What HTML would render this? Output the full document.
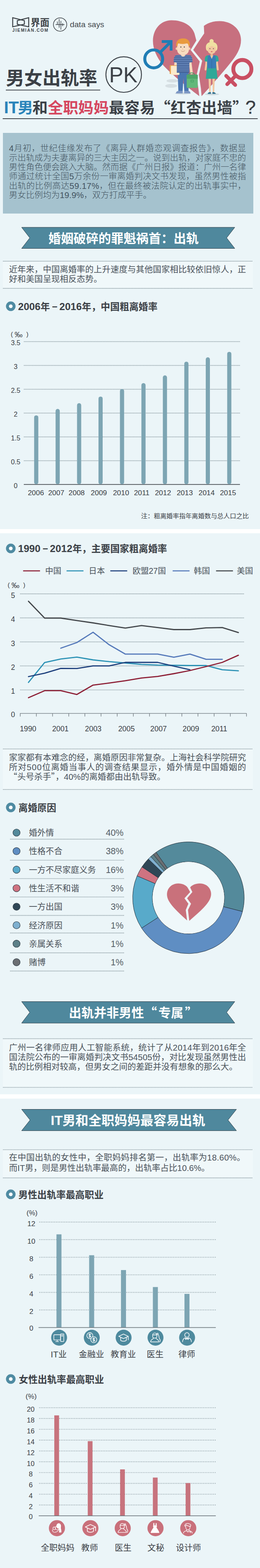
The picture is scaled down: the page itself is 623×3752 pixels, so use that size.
<!DOCTYPE html>
<html lang="zh-CN"><head><meta charset="utf-8"><title>男女出轨率PK</title>
<style>
html,body{margin:0;padding:0;background:#ebf5f8;}
body{width:623px;height:3752px;position:relative;overflow:hidden;font-family:"Liberation Sans","Noto Sans CJK SC",sans-serif;}
#art{position:absolute;left:0;top:0;display:block;}
#art text{font-family:"Liberation Sans","Noto Sans CJK SC",sans-serif;}
</style></head><body>
<svg id="art" width="623" height="3752" viewBox="0 0 623 3752">
<g fill="none" stroke="#3d4247" stroke-width="2.3" stroke-linejoin="miter"><path d="M30.4 42.4 L58.4 49.3 L58.4 57.8 L30.4 64 Z"/><path d="M68.8 42.4 L41.5 49.3 L41.5 58.2 L68.8 64 Z"/></g>
<text x="73.5" y="61.75" font-size="22.5" fill="#3d4247" font-weight="bold">界面</text>
<text x="29.6" y="76.0" font-size="10.2" fill="#3d4247" text-anchor="start" font-weight="bold" letter-spacing="1.75">JIEMIAN.COM</text>
<circle cx="144" cy="58.7" r="16" fill="none" stroke="#3d4247" stroke-width="1.5"/>
<g stroke="#3d4247" stroke-width="1.4" fill="none"><path d="M133.3 58.7 H154.4 M137.5 51.4 V59.3 M141.7 45.8 V66.2 M145.9 50 V71 M150.2 55.6 V62.6"/></g>
<text x="167.5" y="64.6" font-size="19.2" fill="#44494e" text-anchor="start" font-weight="normal">data says</text>
<path d="M466 80 C460 62 440 48.5 411 48.5 C385 48.5 366.5 70 366.5 98 C366.5 118 376 137 388 152.5 C402 170 442 203 477.5 230 L475.6 213.7 L471 180.3 L478.6 147 L456.7 119.5 L470.5 97 Z" fill="#c7707f"/>
<path d="M488.5 62 C497 55 510 50.5 526 50.5 C554 50.5 577.5 69 577.5 96 C577.5 116 566 134 551 152 C535 172 508 203 483 230 L481.5 212 L476.5 179 L484.5 145.5 L463 119.5 L478 96.5 L489.3 80 Z" fill="#c7707f"/>
<g fill="none" stroke="#1f7db5" stroke-width="7.2"><circle cx="368.3" cy="140.9" r="21.4"/><path d="M383.2 126 L409.6 99.6" stroke-width="7"/><path d="M387.6 99.4 H410 V121" stroke-width="6.6" stroke-linejoin="miter"/></g>
<g fill="none" stroke="#c94f63" stroke-linecap="round"><circle cx="580.7" cy="165.2" r="21.7" stroke-width="9.3"/><path d="M565.4 180.5 L544.4 201.5 M541.9 181.5 L563.7 203.3" stroke-width="8.8"/></g>
<ellipse cx="413" cy="193.5" rx="14" ry="4" fill="#d6dfe3"/><ellipse cx="410" cy="205.5" rx="14" ry="4.6" fill="#d6dfe3"/>
<ellipse cx="508" cy="225.5" rx="17" ry="2.6" fill="#b7c3c9" opacity="0.55"/><ellipse cx="438" cy="223.5" rx="19" ry="2.6" fill="#b7c3c9" opacity="0.5"/>
<clipPath id="shirtclip"><path d="M425 131.4 H452.4 C457.6 131.4 460.4 136 460.8 141 L461.4 148.6 L453.8 150 V174 H423.6 V150 L416 148.6 L416.6 141 C417 136 419.8 131.4 425 131.4 Z"/></clipPath>
<g><path d="M425.6 172 H451.8 V218 H441.6 L439.6 186 L437.6 218 H427.4 Z" fill="#4a76b1"/><path d="M421.6 223.6 C421.6 219.6 425 217.6 428 217.6 H437.8 V223.6 Z M441.4 217.6 H451 C454.4 217.6 456.4 220.6 456.4 223.6 H441.4 Z" fill="#7d97c4"/><path d="M419.4 140 L415.4 170 C415 174.6 421 175.4 421.8 171 L425.4 144 Z" fill="#f8dcc0"/><path d="M457.6 140 L462 174 C462.6 178.6 456.6 179.2 456 175 L452 144 Z" fill="#f8dcc0"/><rect x="406.6" y="156" width="20" height="21" rx="1" fill="#e8a04a"/><rect x="409.4" y="157.6" width="20.4" height="21.6" rx="1.5" fill="#fbeacb"/><rect x="434.6" y="126" width="8" height="8" fill="#f1cfae"/><path d="M425 131.4 H452.4 C457.6 131.4 460.4 136 460.8 141 L461.4 148.6 L453.8 150 V174 H423.6 V150 L416 148.6 L416.6 141 C417 136 419.8 131.4 425 131.4 Z" fill="#6b8cc0"/><g stroke="#3d5a8e" stroke-width="2" clip-path="url(#shirtclip)"><path d="M416 134.2 H461.6" /><path d="M416 138.6 H461.6" /><path d="M416 143.0 H461.6" /><path d="M416 147.4 H461.6" /><path d="M423.6 151.8 H453.8" /><path d="M423.6 156.2 H453.8" /><path d="M423.6 160.6 H453.8" /><path d="M423.6 165.0 H453.8" /><path d="M423.6 169.4 H453.8" /><path d="M423.6 173.0 H453.8" /></g><path d="M433 131.4 C434.6 136.4 443 136.4 444.6 131.4 Z" fill="#f8dcc0"/><circle cx="423.6" cy="116.4" r="2.8" fill="#f1cfae"/><circle cx="453.6" cy="116.4" r="2.8" fill="#f1cfae"/><path d="M424.4 104 H452.6 V118 C452.6 127 446.6 131.6 438.5 131.6 C430.4 131.6 424.4 127 424.4 118 Z" fill="#f8dcc0"/><path d="M422.4 110.6 C420.6 98.6 428 91.6 439 92 C449.4 91.6 456.6 98.6 454.8 110.6 L452 111 C451.6 106.6 450.4 104.6 447.8 103.6 C441 106 431 105.6 427.6 103 C426 105 425.4 107.6 425.2 111 Z" fill="#e99b3e"/><circle cx="433.4" cy="112.6" r="1.25" fill="#3a3a3a"/><circle cx="441.6" cy="112.6" r="1.25" fill="#3a3a3a"/><path d="M433.6 121 C436 124 440.6 124 443 120.6" stroke="#b9805e" stroke-width="0.9" fill="none"/><path d="M437.4 114.6 V118.6 H439" stroke="#e2b892" stroke-width="0.8" fill="none"/><path d="M452.4 179.6 C452.6 172.6 466.4 172.6 466.6 179.6" fill="none" stroke="#3f9a62" stroke-width="1.8"/><rect x="447.4" y="178.6" width="26.4" height="31.6" rx="2" fill="#62b87a"/><path d="M447.4 180.6 C447.4 179.4 448.4 178.6 449.4 178.6 H471.8 C472.8 178.6 473.8 179.4 473.8 180.6 V188.6 H447.4 Z" fill="#4ea569"/><rect x="457.6" y="191.6" width="5.8" height="4.6" fill="none" stroke="#3f9a62" stroke-width="1"/></g>
<g><path d="M499.6 186 H505.4 L504.6 221 H501.2 Z M509 186 H514.8 L513.2 221 H509.8 Z" fill="#f2c7a0"/><path d="M497.6 224.6 C498 221.6 501 220.4 505.4 220.6 V224.6 Z M509 220.6 C513 220.4 516.6 221.6 517 224.6 H509 Z" fill="#2a6c8c"/><path d="M493.4 141 L490.4 166 C490.2 169.4 494.2 169.8 494.8 166.6 L498 144 Z M521 141 L524 166 C524.2 169.4 520.2 169.8 519.6 166.6 L516.4 144 Z" fill="#f2c7a0"/><path d="M498 132.6 H516.6 C520.6 132.6 523 136 523.4 140 L524 146.6 L517.8 147.8 L518.6 164 L521.4 188.4 H493 L495.8 164 L496.6 147.8 L490.4 146.6 L491 140 C491.4 136 493.8 132.6 498 132.6 Z" fill="#2fa898"/><path d="M498.4 132.6 H516.2 L518.2 150 L517 163.6 H497.6 L496.4 150 Z" fill="#3a7cb8"/><path d="M503.6 132.6 L507.3 141 L511 132.6 Z" fill="#f2c7a0"/><path d="M507.3 141 V163.6" stroke="#2d6398" stroke-width="0.8"/><rect x="504.6" y="126" width="5.4" height="7.4" fill="#e7b98f"/><circle cx="507" cy="98.6" r="5" fill="#f0e0a2"/><path d="M493.6 116 C492 106 498 100.6 507.2 100.6 C516.4 100.6 522.4 106 520.8 116 C520.4 120 518.6 121.6 516.6 122 H497.8 C495.8 121.6 494 120 493.6 116 Z" fill="#f0e0a2"/><path d="M497.6 110 H516.8 V119.6 C516.8 125.6 512.6 129 507.2 129 C501.8 129 497.6 125.6 497.6 119.6 Z" fill="#f2c7a0"/><path d="M496.4 113.6 C497 108 501 106.4 507.2 106.4 C513.4 106.4 517.4 108 518 113.6 C513 113 510 111.4 507.2 109.4 C504.4 111.4 501.4 113 496.4 113.6 Z" fill="#f0e0a2"/><circle cx="503" cy="116.6" r="1" fill="#3a3a3a"/><circle cx="511.4" cy="116.6" r="1" fill="#3a3a3a"/><path d="M504.8 123.4 C506 124.8 508.4 124.8 509.6 123.4 C508.4 122.6 506 122.6 504.8 123.4 Z" fill="#c8424f"/></g>
<text x="14.2" y="202.94" font-size="43.8" fill="#3b4046" font-weight="bold">男女出轨率</text>
<rect x="14.00" y="214.60" width="226.00" height="1.80" fill="#3b4046" />
<circle cx="296.4" cy="178.4" r="42.6" fill="none" stroke="#3b4046" stroke-width="2.2"/>
<text x="295.6" y="196.9" font-size="51.0" fill="#3b4046" text-anchor="middle" font-weight="normal">PK</text>
<text x="9.4" y="271.3" font-size="40.4" fill="#2a84ba" font-weight="bold">IT</text>
<text x="42.8" y="270.51" font-size="36.6" fill="#2a84ba" font-weight="bold">男</text>
<text x="77.8" y="270.51" font-size="36.6" fill="#3b4046" font-weight="bold">和</text>
<text x="114.4" y="270.51" font-size="36.6" fill="#d6475f" font-weight="bold">全职妈妈</text>
<text x="260.9" y="270.51" font-size="36.6" fill="#3b4046" font-weight="bold" textLength="332.6" lengthAdjust="spacing">最容易<tspan style="font-family:'Noto Sans CJK SC','Liberation Sans',sans-serif">“</tspan>红杏出墙<tspan style="font-family:'Noto Sans CJK SC','Liberation Sans',sans-serif">”</tspan></text>
<text x="588" y="271.6" font-size="44.5" fill="#3b4046" stroke="#3b4046" stroke-width="0.5">?</text>
<rect x="6.50" y="283.00" width="611.00" height="1.90" fill="#3b4046" />
<rect x="7.00" y="318.00" width="600.00" height="193.00" fill="#a5c2ce" />
<text x="21.6" y="362.31" font-size="20.3" fill="#435360" font-weight="300" textLength="568" lengthAdjust="spacing">4月初，世纪佳缘发布了《离异人群婚恋观调查报告》，数据显</text>
<text x="21.6" y="384.66" font-size="20.3" fill="#435360" font-weight="300" textLength="568" lengthAdjust="spacing">示出轨成为夫妻离异的三大主因之一。说到出轨，对家庭不忠的</text>
<text x="21.6" y="407.01" font-size="20.3" fill="#435360" font-weight="300" textLength="568" lengthAdjust="spacing">男性角色便会跳入大脑。然而据《广州日报》报道：广州一名律</text>
<text x="21.6" y="429.36" font-size="20.3" fill="#435360" font-weight="300" textLength="568" lengthAdjust="spacing">师通过统计全国5万余份一审离婚判决文书发现，虽然男性被指</text>
<text x="21.6" y="451.71" font-size="20.3" fill="#435360" font-weight="300" textLength="568" lengthAdjust="spacing">出轨的比例高达59.17%，但在最终被法院认定的出轨事实中，</text>
<text x="21.6" y="474.06" font-size="20.3" fill="#435360" font-weight="300">男女比例均为19.9%，双方打成平手。</text>
<polygon points="51.8,544.0 562.6,544.0 543.0,569.2 562.6,594.5 51.8,594.5 71.4,569.2" fill="#4f889d" stroke="#2c3c46" stroke-width="1"/>
<text x="116" y="580.95" font-size="30" fill="#fff" font-weight="bold">婚姻破碎的罪魁祸首：出轨</text>
<rect x="7.00" y="625.00" width="599.00" height="65.00" fill="#f0f8fa" />
<line x1="8.0" y1="625.0" x2="606.0" y2="625.0" stroke="#84949b" stroke-width="1.8" stroke-dasharray="0.01 2.65" stroke-linecap="round"/>
<line x1="8.0" y1="690.0" x2="606.0" y2="690.0" stroke="#84949b" stroke-width="1.8" stroke-dasharray="0.01 2.65" stroke-linecap="round"/>
<text x="21.5" y="651.91" font-size="20.3" fill="#4a525a" textLength="568" lengthAdjust="spacing">近年来，中国离婚率的上升速度与其他国家相比较依旧惊人，正</text>
<text x="21.5" y="675.01" font-size="20.3" fill="#4a525a">好和美国呈现相反态势。</text>
<circle cx="25.8" cy="732.8" r="11.5" fill="#4f8ba2"/><circle cx="25.8" cy="732.8" r="4.4" fill="#fff"/>
<text y="741.63" font-size="22.7" fill="#3b4046" font-weight="bold"><tspan x="43.2" font-size="24.2">2006</tspan><tspan x="96.98">年</tspan><tspan x="124.5">−</tspan><tspan x="142.2" font-size="24.2">2016</tspan><tspan x="196">年，中国粗离婚率</tspan></text>
<text x="25.8" y="804.5" font-size="15.5" fill="#3b4046" text-anchor="start" font-weight="normal">(</text>
<text x="35" y="807.02" font-size="19" fill="#3b4046">‰</text>
<text x="63.1" y="804.5" font-size="15.5" fill="#3b4046" text-anchor="start" font-weight="normal">)</text>
<text x="37.4" y="825.7" font-size="16.2" fill="#3b4046" text-anchor="middle" font-weight="normal">3.5</text>
<line x1="58.0" y1="817.4" x2="575.0" y2="817.4" stroke="#84949b" stroke-width="1.8" stroke-dasharray="0.01 2.65" stroke-linecap="round"/>
<text x="37.4" y="882.7" font-size="16.2" fill="#3b4046" text-anchor="middle" font-weight="normal">3</text>
<line x1="58.0" y1="874.4" x2="575.0" y2="874.4" stroke="#84949b" stroke-width="1.8" stroke-dasharray="0.01 2.65" stroke-linecap="round"/>
<text x="37.4" y="939.7" font-size="16.2" fill="#3b4046" text-anchor="middle" font-weight="normal">2.5</text>
<line x1="58.0" y1="931.4" x2="575.0" y2="931.4" stroke="#84949b" stroke-width="1.8" stroke-dasharray="0.01 2.65" stroke-linecap="round"/>
<text x="37.4" y="996.7" font-size="16.2" fill="#3b4046" text-anchor="middle" font-weight="normal">2</text>
<line x1="58.0" y1="988.4" x2="575.0" y2="988.4" stroke="#84949b" stroke-width="1.8" stroke-dasharray="0.01 2.65" stroke-linecap="round"/>
<text x="37.4" y="1053.7" font-size="16.2" fill="#3b4046" text-anchor="middle" font-weight="normal">1.5</text>
<line x1="58.0" y1="1045.4" x2="575.0" y2="1045.4" stroke="#84949b" stroke-width="1.8" stroke-dasharray="0.01 2.65" stroke-linecap="round"/>
<text x="37.4" y="1110.7" font-size="16.2" fill="#3b4046" text-anchor="middle" font-weight="normal">0.5</text>
<line x1="58.0" y1="1102.4" x2="575.0" y2="1102.4" stroke="#84949b" stroke-width="1.8" stroke-dasharray="0.01 2.65" stroke-linecap="round"/>
<text x="37.4" y="1167.7" font-size="16.2" fill="#3b4046" text-anchor="middle" font-weight="normal">0</text>
<rect x="57.00" y="1158.50" width="518.00" height="1.60" fill="#3b4046" />
<rect x="81.8" y="993.9" width="10" height="164.9" rx="5" fill="#7da5b3"/>
<text x="86.0" y="1185.4" font-size="17.4" fill="#3b4046" text-anchor="middle" font-weight="normal">2006</text>
<rect x="133.2" y="978.6" width="10" height="180.2" rx="5" fill="#7da5b3"/>
<text x="134.8" y="1185.4" font-size="17.4" fill="#3b4046" text-anchor="middle" font-weight="normal">2007</text>
<rect x="184.6" y="964.8" width="10" height="194.0" rx="5" fill="#7da5b3"/>
<text x="183.7" y="1185.4" font-size="17.4" fill="#3b4046" text-anchor="middle" font-weight="normal">2008</text>
<rect x="236.0" y="948.9" width="10" height="209.9" rx="5" fill="#7da5b3"/>
<text x="236.9" y="1185.4" font-size="17.4" fill="#3b4046" text-anchor="middle" font-weight="normal">2009</text>
<rect x="287.4" y="930.9" width="10" height="227.9" rx="5" fill="#7da5b3"/>
<text x="290.0" y="1185.4" font-size="17.4" fill="#3b4046" text-anchor="middle" font-weight="normal">2010</text>
<rect x="338.8" y="916.7" width="10" height="242.1" rx="5" fill="#7da5b3"/>
<text x="339.6" y="1185.4" font-size="17.4" fill="#3b4046" text-anchor="middle" font-weight="normal">2011</text>
<rect x="390.2" y="898.3" width="10" height="260.5" rx="5" fill="#7da5b3"/>
<text x="390.5" y="1185.4" font-size="17.4" fill="#3b4046" text-anchor="middle" font-weight="normal">2012</text>
<rect x="441.6" y="865.4" width="10" height="293.4" rx="5" fill="#7da5b3"/>
<text x="442.8" y="1185.4" font-size="17.4" fill="#3b4046" text-anchor="middle" font-weight="normal">2013</text>
<rect x="493.0" y="855.1" width="10" height="303.7" rx="5" fill="#7da5b3"/>
<text x="495.1" y="1185.4" font-size="17.4" fill="#3b4046" text-anchor="middle" font-weight="normal">2014</text>
<rect x="544.4" y="841.9" width="10" height="316.9" rx="5" fill="#7da5b3"/>
<text x="546.3" y="1185.4" font-size="17.4" fill="#3b4046" text-anchor="middle" font-weight="normal">2015</text>
<text x="338.1" y="1240.28" font-size="15.2" fill="#3b4046">注：粗离婚率指年离婚数与总人口之比</text>
<rect x="0.00" y="1266.00" width="623.00" height="10.00" fill="#ffffff" />
<circle cx="25.8" cy="1312.3" r="11.5" fill="#4f8ba2"/><circle cx="25.8" cy="1312.3" r="4.4" fill="#fff"/>
<text y="1321.13" font-size="22.7" fill="#3b4046" font-weight="bold"><tspan x="43.2" font-size="24.2">1990</tspan><tspan x="101.9">−</tspan><tspan x="119.6" font-size="24.2">2012</tspan><tspan x="173.4">年，主要国家粗离婚率</tspan></text>
<line x1="55.4" y1="1366" x2="95.9" y2="1366" stroke="#8d1f35" stroke-width="2.6"/>
<text x="108.2" y="1373.17" font-size="19.4" fill="#4a525a">中国</text>
<line x1="159.5" y1="1366" x2="200.0" y2="1366" stroke="#2c92b5" stroke-width="2.6"/>
<text x="212.6" y="1373.17" font-size="19.4" fill="#4a525a">日本</text>
<line x1="264.3" y1="1366" x2="304.8" y2="1366" stroke="#1d3f7c" stroke-width="2.6"/>
<text x="317.8" y="1373.17" font-size="19.4" fill="#4a525a">欧盟27国</text>
<line x1="413.7" y1="1366" x2="454.2" y2="1366" stroke="#5579ba" stroke-width="2.6"/>
<text x="464.3" y="1373.17" font-size="19.4" fill="#4a525a">韩国</text>
<line x1="517.7" y1="1366" x2="558.2" y2="1366" stroke="#43474b" stroke-width="2.6"/>
<text x="567.5" y="1373.17" font-size="19.4" fill="#4a525a">美国</text>
<text x="18.2" y="1404.7" font-size="15.5" fill="#3b4046" text-anchor="start" font-weight="normal">(</text>
<text x="27.4" y="1407.22" font-size="19" fill="#3b4046">‰</text>
<text x="55.5" y="1404.7" font-size="15.5" fill="#3b4046" text-anchor="start" font-weight="normal">)</text>
<text x="31.0" y="1715.5" font-size="17.5" fill="#3b4046" text-anchor="middle" font-weight="normal">0</text>
<text x="31.0" y="1660.4" font-size="17.5" fill="#3b4046" text-anchor="middle" font-weight="normal">1</text>
<line x1="49.0" y1="1650.8" x2="585.5" y2="1650.8" stroke="#84949b" stroke-width="1.8" stroke-dasharray="0.01 2.65" stroke-linecap="round"/>
<text x="31.0" y="1603.0" font-size="17.5" fill="#3b4046" text-anchor="middle" font-weight="normal">2</text>
<line x1="49.0" y1="1593.4" x2="585.5" y2="1593.4" stroke="#84949b" stroke-width="1.8" stroke-dasharray="0.01 2.65" stroke-linecap="round"/>
<text x="31.0" y="1545.5" font-size="17.5" fill="#3b4046" text-anchor="middle" font-weight="normal">3</text>
<line x1="49.0" y1="1535.9" x2="585.5" y2="1535.9" stroke="#84949b" stroke-width="1.8" stroke-dasharray="0.01 2.65" stroke-linecap="round"/>
<text x="31.0" y="1488.1" font-size="17.5" fill="#3b4046" text-anchor="middle" font-weight="normal">4</text>
<line x1="49.0" y1="1478.5" x2="585.5" y2="1478.5" stroke="#84949b" stroke-width="1.8" stroke-dasharray="0.01 2.65" stroke-linecap="round"/>
<text x="31.0" y="1430.6" font-size="17.5" fill="#3b4046" text-anchor="middle" font-weight="normal">5</text>
<line x1="49.0" y1="1421.0" x2="585.5" y2="1421.0" stroke="#84949b" stroke-width="1.8" stroke-dasharray="0.01 2.65" stroke-linecap="round"/>
<path d="M47.8 1707.2 H591 M48.5 1707.2 V1714.4 M87.2 1707.2 V1714.4 M125.9 1707.2 V1714.4 M164.7 1707.2 V1714.4 M203.4 1707.2 V1714.4 M242.1 1707.2 V1714.4 M280.8 1707.2 V1714.4 M319.5 1707.2 V1714.4 M358.3 1707.2 V1714.4 M397.0 1707.2 V1714.4 M435.7 1707.2 V1714.4 M474.4 1707.2 V1714.4 M513.1 1707.2 V1714.4 M551.9 1707.2 V1714.4 M590.6 1707.2 V1714.4" stroke="#6d767c" stroke-width="1.3" fill="none"/>
<polyline points="68.2,1438.7 106.9,1479.0 145.6,1479.0 184.2,1484.9 223.0,1490.5 261.6,1496.8 300.4,1502.8 339.1,1496.8 377.8,1501.7 416.5,1506.5 455.1,1506.5 493.9,1502.4 532.6,1501.7 571.2,1513.6" fill="none" stroke="#43474b" stroke-width="2.8" stroke-linejoin="round" stroke-linecap="round"/>
<polyline points="145.6,1551.0 184.2,1537.5 223.0,1512.9 261.6,1542.8 300.4,1565.2 339.1,1565.2 377.8,1565.2 416.5,1572.7 455.1,1565.2 493.9,1577.6 532.6,1577.6" fill="none" stroke="#5579ba" stroke-width="2.8" stroke-linejoin="round" stroke-linecap="round"/>
<polyline points="68.2,1632.9 106.9,1585.4 145.6,1576.8 184.2,1572.3 223.0,1579.0 261.6,1583.2 300.4,1586.5 339.1,1589.9 377.8,1591.4 416.5,1592.0 455.1,1592.5 493.9,1592.5 532.6,1602.6 571.2,1605.2" fill="none" stroke="#2c92b5" stroke-width="2.8" stroke-linejoin="round" stroke-linecap="round"/>
<polyline points="68.2,1619.0 106.9,1610.8 145.6,1599.3 184.2,1599.6 223.0,1593.3 261.6,1593.3 300.4,1585.0 339.1,1585.0 377.8,1585.0 416.5,1594.0 455.1,1602.6" fill="none" stroke="#1d3f7c" stroke-width="2.8" stroke-linejoin="round" stroke-linecap="round"/>
<polyline points="68.2,1669.5 106.9,1652.7 145.6,1652.7 184.2,1661.8 223.0,1639.3 261.6,1634.4 300.4,1628.8 339.1,1622.4 377.8,1618.7 416.5,1612.0 455.1,1604.5 493.9,1595.0 532.6,1585.0 571.2,1567.9" fill="none" stroke="#8d1f35" stroke-width="2.8" stroke-linejoin="round" stroke-linecap="round"/>
<text x="67.2" y="1749.6" font-size="17.8" fill="#3b4046" text-anchor="middle" font-weight="normal">1990</text>
<text x="144.7" y="1749.6" font-size="17.8" fill="#3b4046" text-anchor="middle" font-weight="normal">2001</text>
<text x="223.4" y="1749.6" font-size="17.8" fill="#3b4046" text-anchor="middle" font-weight="normal">2003</text>
<text x="303.0" y="1749.6" font-size="17.8" fill="#3b4046" text-anchor="middle" font-weight="normal">2005</text>
<text x="379.9" y="1749.6" font-size="17.8" fill="#3b4046" text-anchor="middle" font-weight="normal">2007</text>
<text x="457.3" y="1749.6" font-size="17.8" fill="#3b4046" text-anchor="middle" font-weight="normal">2009</text>
<text x="525.3" y="1749.6" font-size="17.8" fill="#3b4046" text-anchor="middle" font-weight="normal">2011</text>
<rect x="7.00" y="1792.20" width="599.00" height="97.00" fill="#f0f8fa" />
<line x1="8.0" y1="1792.2" x2="606.0" y2="1792.2" stroke="#84949b" stroke-width="1.8" stroke-dasharray="0.01 2.65" stroke-linecap="round"/>
<line x1="8.0" y1="1889.2" x2="606.0" y2="1889.2" stroke="#84949b" stroke-width="1.8" stroke-dasharray="0.01 2.65" stroke-linecap="round"/>
<text x="21.5" y="1820.31" font-size="20.3" fill="#4a525a" textLength="568" lengthAdjust="spacing">家家都有本难念的经，离婚原因非常复杂。上海社会科学院研究</text>
<text x="21.5" y="1843.06" font-size="20.3" fill="#4a525a" textLength="568" lengthAdjust="spacing">所对500位离婚当事人的调查结果显示，婚外情是中国婚姻的</text>
<text x="21.1" y="1865.81" font-size="20.3" fill="#4a525a"><tspan style="font-family:'Noto Sans CJK SC','Liberation Sans',sans-serif">“</tspan>头号杀手<tspan style="font-family:'Noto Sans CJK SC','Liberation Sans',sans-serif">”</tspan>，40%的离婚都由出轨导致。</text>
<circle cx="25.8" cy="1932.1" r="11.5" fill="#4f8ba2"/><circle cx="25.8" cy="1932.1" r="4.4" fill="#fff"/>
<text x="44" y="1940.93" font-size="22.7" fill="#3b4046" font-weight="bold">离婚原因</text>
<circle cx="39.6" cy="1992.4" r="8.6" fill="#548a9b" stroke="#2e3a44" stroke-width="1.1"/>
<text x="69.2" y="2000.04" font-size="20.1" fill="#4a5159">婚外情</text>
<text x="296.0" y="2000.0" font-size="21.3" fill="#555d65" text-anchor="end" font-weight="normal">40%</text>
<line x1="25.0" y1="2008.0" x2="298.0" y2="2008.0" stroke="#84949b" stroke-width="1.8" stroke-dasharray="0.01 2.65" stroke-linecap="round"/>
<circle cx="39.6" cy="2036.7" r="8.6" fill="#5f8ec3" stroke="#2e3a44" stroke-width="1.1"/>
<text x="69.2" y="2044.34" font-size="20.1" fill="#4a5159">性格不合</text>
<text x="296.0" y="2044.3" font-size="21.3" fill="#555d65" text-anchor="end" font-weight="normal">38%</text>
<line x1="25.0" y1="2058.3" x2="298.0" y2="2058.3" stroke="#84949b" stroke-width="1.8" stroke-dasharray="0.01 2.65" stroke-linecap="round"/>
<circle cx="39.6" cy="2081.0" r="8.6" fill="#58aaca" stroke="#2e3a44" stroke-width="1.1"/>
<text x="69.2" y="2088.64" font-size="20.1" fill="#4a5159">一方不尽家庭义务</text>
<text x="296.0" y="2088.6" font-size="21.3" fill="#555d65" text-anchor="end" font-weight="normal">16%</text>
<line x1="25.0" y1="2102.3" x2="298.0" y2="2102.3" stroke="#84949b" stroke-width="1.8" stroke-dasharray="0.01 2.65" stroke-linecap="round"/>
<circle cx="39.6" cy="2125.3" r="8.6" fill="#cf7381" stroke="#2e3a44" stroke-width="1.1"/>
<text x="69.2" y="2132.94" font-size="20.1" fill="#4a5159">性生活不和谐</text>
<text x="296.0" y="2132.9" font-size="21.3" fill="#555d65" text-anchor="end" font-weight="normal">3%</text>
<line x1="25.0" y1="2146.3" x2="298.0" y2="2146.3" stroke="#84949b" stroke-width="1.8" stroke-dasharray="0.01 2.65" stroke-linecap="round"/>
<circle cx="39.6" cy="2169.6" r="8.6" fill="#2f4756" stroke="#2e3a44" stroke-width="1.1"/>
<text x="69.2" y="2177.24" font-size="20.1" fill="#4a5159">一方出国</text>
<text x="296.0" y="2177.2" font-size="21.3" fill="#555d65" text-anchor="end" font-weight="normal">3%</text>
<line x1="25.0" y1="2190.5" x2="298.0" y2="2190.5" stroke="#84949b" stroke-width="1.8" stroke-dasharray="0.01 2.65" stroke-linecap="round"/>
<circle cx="39.6" cy="2213.9" r="8.6" fill="#7fb0cf" stroke="#2e3a44" stroke-width="1.1"/>
<text x="69.2" y="2221.54" font-size="20.1" fill="#4a5159">经济原因</text>
<text x="296.0" y="2221.5" font-size="21.3" fill="#555d65" text-anchor="end" font-weight="normal">1%</text>
<line x1="25.0" y1="2232.5" x2="298.0" y2="2232.5" stroke="#84949b" stroke-width="1.8" stroke-dasharray="0.01 2.65" stroke-linecap="round"/>
<circle cx="39.6" cy="2258.2" r="8.6" fill="#5c8088" stroke="#2e3a44" stroke-width="1.1"/>
<text x="69.2" y="2265.84" font-size="20.1" fill="#4a5159">亲属关系</text>
<text x="296.0" y="2265.8" font-size="21.3" fill="#555d65" text-anchor="end" font-weight="normal">1%</text>
<line x1="25.0" y1="2280.0" x2="298.0" y2="2280.0" stroke="#84949b" stroke-width="1.8" stroke-dasharray="0.01 2.65" stroke-linecap="round"/>
<circle cx="39.6" cy="2302.5" r="8.6" fill="#6b6f73" stroke="#2e3a44" stroke-width="1.1"/>
<text x="69.2" y="2310.14" font-size="20.1" fill="#4a5159">赌博</text>
<text x="296.0" y="2310.1" font-size="21.3" fill="#555d65" text-anchor="end" font-weight="normal">1%</text>
<line x1="25.0" y1="2323.5" x2="298.0" y2="2323.5" stroke="#84949b" stroke-width="1.8" stroke-dasharray="0.01 2.65" stroke-linecap="round"/>
<path d="M373.92 2039.43 A133.6 133.6 0 0 1 580.96 2181.21 L535.32 2169.57 A86.5 86.5 0 0 0 401.27 2077.78 Z" fill="#548a9b" stroke="#26323c" stroke-width="1" stroke-linejoin="round"/>
<path d="M580.96 2181.21 A133.6 133.6 0 0 1 339.30 2220.73 L378.86 2195.16 A86.5 86.5 0 0 0 535.32 2169.57 Z" fill="#5f8ec3" stroke="#26323c" stroke-width="1" stroke-linejoin="round"/>
<path d="M339.30 2220.73 A133.6 133.6 0 0 1 328.56 2095.90 L371.90 2114.34 A86.5 86.5 0 0 0 378.86 2195.16 Z" fill="#58aaca" stroke="#26323c" stroke-width="1" stroke-linejoin="round"/>
<path d="M328.56 2095.90 A133.6 133.6 0 0 1 340.13 2074.40 L379.39 2100.42 A86.5 86.5 0 0 0 371.90 2114.34 Z" fill="#cf7381" stroke="#26323c" stroke-width="1" stroke-linejoin="round"/>
<path d="M340.13 2074.40 A133.6 133.6 0 0 1 355.42 2055.37 L389.29 2088.10 A86.5 86.5 0 0 0 379.39 2100.42 Z" fill="#2f4756" stroke="#26323c" stroke-width="1" stroke-linejoin="round"/>
<path d="M355.42 2055.37 A133.6 133.6 0 0 1 361.26 2049.68 L393.07 2084.42 A86.5 86.5 0 0 0 389.29 2088.10 Z" fill="#7fb0cf" stroke="#26323c" stroke-width="1" stroke-linejoin="round"/>
<path d="M361.26 2049.68 A133.6 133.6 0 0 1 367.43 2044.37 L397.07 2080.97 A86.5 86.5 0 0 0 393.07 2084.42 Z" fill="#5c8088" stroke="#26323c" stroke-width="1" stroke-linejoin="round"/>
<path d="M367.43 2044.37 A133.6 133.6 0 0 1 373.92 2039.43 L401.27 2077.78 A86.5 86.5 0 0 0 397.07 2080.97 Z" fill="#6b6f73" stroke="#26323c" stroke-width="1" stroke-linejoin="round"/>
<circle cx="451.5" cy="2148.2" r="85.9" fill="#eff8fa"/>
<g transform="translate(452.5 2116) scale(1.05 0.93)"><path d="M-3 8 C-12 -6 -42 -8 -49 18 C-54 40 -38 58 -4 93 L-7 66 L-1 50 L-10 36 L3 20 Z" fill="#c9717b"/><path d="M3 8 C12 -6 44 -8 50 18 C55 40 36 60 1 94 L-2 66 L5 50 L-4 36 L8 20 Z" fill="#c9717b"/></g>
<polygon points="51.8,2396.7 562.6,2396.7 543.0,2422.4 562.6,2448.1 51.8,2448.1 71.4,2422.4" fill="#4f889d" stroke="#2c3c46" stroke-width="1"/>
<text x="165" y="2434.1" font-size="30" fill="#fff" font-weight="bold">出轨并非男性</text>
<text x="345.9" y="2434.1" font-size="30" fill="#fff" font-weight="bold" style="font-family:'Noto Sans CJK SC','Liberation Sans',sans-serif">“</text>
<text x="379.6" y="2434.1" font-size="30" fill="#fff" font-weight="bold">专属</text>
<text x="443.2" y="2434.1" font-size="30" fill="#fff" font-weight="bold" style="font-family:'Noto Sans CJK SC','Liberation Sans',sans-serif">”</text>
<rect x="7.00" y="2485.40" width="599.00" height="116.40" fill="#f0f8fa" />
<line x1="8.0" y1="2485.4" x2="606.0" y2="2485.4" stroke="#84949b" stroke-width="1.8" stroke-dasharray="0.01 2.65" stroke-linecap="round"/>
<line x1="8.0" y1="2601.8" x2="606.0" y2="2601.8" stroke="#84949b" stroke-width="1.8" stroke-dasharray="0.01 2.65" stroke-linecap="round"/>
<text x="21.5" y="2513.61" font-size="20.3" fill="#4a525a" textLength="568" lengthAdjust="spacing">广州一名律师应用人工智能系统，统计了从2014年到2016年全</text>
<text x="21.5" y="2536.56" font-size="20.3" fill="#4a525a" textLength="568" lengthAdjust="spacing">国法院公布的一审离婚判决文书54505份，对比发现虽然男性出</text>
<text x="21.5" y="2559.51" font-size="20.3" fill="#4a525a">轨的比例相对较高，但男女之间的差距并没有想象的那么大。</text>
<rect x="0.00" y="2618.50" width="623.00" height="10.30" fill="#ffffff" />
<polygon points="51.8,2654.5 566.6,2654.5 546.3,2680.1 566.6,2705.6 51.8,2705.6 72.1,2680.1" fill="#4f889d" stroke="#2c3c46" stroke-width="1"/>
<text x="121.6" y="2692.13" font-size="32.2" fill="#fff" font-weight="bold">IT</text>
<text x="149.7" y="2692.13" font-size="31" fill="#fff" font-weight="bold" textLength="342" lengthAdjust="spacing">男和全职妈妈最容易出轨</text>
<rect x="7.00" y="2751.10" width="599.00" height="67.40" fill="#f0f8fa" />
<line x1="8.0" y1="2751.1" x2="606.0" y2="2751.1" stroke="#84949b" stroke-width="1.8" stroke-dasharray="0.01 2.65" stroke-linecap="round"/>
<line x1="8.0" y1="2818.5" x2="606.0" y2="2818.5" stroke="#84949b" stroke-width="1.8" stroke-dasharray="0.01 2.65" stroke-linecap="round"/>
<text x="21.5" y="2777.31" font-size="20.3" fill="#4a525a" textLength="566" lengthAdjust="spacing">在中国出轨的女性中，全职妈妈排名第一，出轨率为18.60%。</text>
<text x="21.5" y="2801.51" font-size="20.3" fill="#4a525a">而IT男，则是男性出轨率最高的，出轨率占比10.6%。</text>
<circle cx="25.8" cy="2857.8" r="11.5" fill="#4f8ba2"/><circle cx="25.8" cy="2857.8" r="4.4" fill="#fff"/>
<text x="44" y="2866.63" font-size="22.7" fill="#3b4046" font-weight="bold">男性出轨率最高职业</text>
<circle cx="25.8" cy="3299.8" r="11.5" fill="#4f8ba2"/><circle cx="25.8" cy="3299.8" r="4.4" fill="#fff"/>
<text x="45" y="3308.63" font-size="22.7" fill="#3b4046" font-weight="bold">女性出轨率最高职业</text>
<text x="76.8" y="2907.6" font-size="17.0" fill="#3b4046" text-anchor="middle" font-weight="normal">(%)</text>
<text x="75.1" y="3184.2" font-size="17.3" fill="#3b4046" text-anchor="middle" font-weight="normal">0</text>
<text x="75.1" y="3144.1" font-size="17.3" fill="#3b4046" text-anchor="middle" font-weight="normal">2</text>
<line x1="95.0" y1="3134.5" x2="519.0" y2="3134.5" stroke="#84949b" stroke-width="1.9" stroke-dasharray="0.01 4" stroke-linecap="round"/>
<text x="75.1" y="3102.1" font-size="17.3" fill="#3b4046" text-anchor="middle" font-weight="normal">4</text>
<line x1="95.0" y1="3092.5" x2="519.0" y2="3092.5" stroke="#84949b" stroke-width="1.9" stroke-dasharray="0.01 4" stroke-linecap="round"/>
<text x="75.1" y="3060.0" font-size="17.3" fill="#3b4046" text-anchor="middle" font-weight="normal">6</text>
<line x1="95.0" y1="3050.4" x2="519.0" y2="3050.4" stroke="#84949b" stroke-width="1.9" stroke-dasharray="0.01 4" stroke-linecap="round"/>
<text x="75.1" y="3018.0" font-size="17.3" fill="#3b4046" text-anchor="middle" font-weight="normal">8</text>
<line x1="95.0" y1="3008.4" x2="519.0" y2="3008.4" stroke="#84949b" stroke-width="1.9" stroke-dasharray="0.01 4" stroke-linecap="round"/>
<text x="75.1" y="2975.9" font-size="17.3" fill="#3b4046" text-anchor="middle" font-weight="normal">10</text>
<line x1="95.0" y1="2966.3" x2="519.0" y2="2966.3" stroke="#84949b" stroke-width="1.9" stroke-dasharray="0.01 4" stroke-linecap="round"/>
<text x="75.1" y="2933.9" font-size="17.3" fill="#3b4046" text-anchor="middle" font-weight="normal">12</text>
<line x1="95.0" y1="2924.3" x2="519.0" y2="2924.3" stroke="#84949b" stroke-width="1.9" stroke-dasharray="0.01 4" stroke-linecap="round"/>
<rect x="135.30" y="2953.60" width="12.00" height="223.00" fill="#7da5b3" />
<rect x="213.60" y="3003.60" width="12.00" height="173.00" fill="#7da5b3" />
<rect x="289.90" y="3039.10" width="12.00" height="137.50" fill="#7da5b3" />
<rect x="366.30" y="3079.70" width="12.00" height="96.90" fill="#7da5b3" />
<rect x="442.00" y="3096.10" width="12.00" height="80.50" fill="#7da5b3" />
<rect x="92.30" y="3175.80" width="424.80" height="1.60" fill="#6d767c" />
<circle cx="141.6" cy="3200.8" r="19.1" fill="#4e8a9e"/>
<text x="121.59" y="3248.28" font-size="20.2" fill="#3b4046"><tspan font-size="20.5">IT</tspan>业</text>
<circle cx="219.9" cy="3200.8" r="19.1" fill="#4e8a9e"/>
<text x="188.8" y="3248.28" font-size="20.2" fill="#3b4046">金融业</text>
<circle cx="296.2" cy="3200.8" r="19.1" fill="#4e8a9e"/>
<text x="265.1" y="3248.28" font-size="20.2" fill="#3b4046">教育业</text>
<circle cx="372.6" cy="3200.8" r="19.1" fill="#4e8a9e"/>
<text x="351.6" y="3248.28" font-size="20.2" fill="#3b4046">医生</text>
<circle cx="448.3" cy="3200.8" r="19.1" fill="#4e8a9e"/>
<text x="427.3" y="3248.28" font-size="20.2" fill="#3b4046">律师</text>
<text x="74.6" y="3346.8" font-size="17.0" fill="#3b4046" text-anchor="middle" font-weight="normal">(%)</text>
<text x="73.6" y="3634.5" font-size="16.8" fill="#3b4046" text-anchor="middle" font-weight="normal">0</text>
<text x="73.6" y="3611.0" font-size="16.8" fill="#3b4046" text-anchor="middle" font-weight="normal">2</text>
<line x1="94.7" y1="3601.2" x2="519.0" y2="3601.2" stroke="#84949b" stroke-width="1.9" stroke-dasharray="0.01 4" stroke-linecap="round"/>
<text x="73.6" y="3585.2" font-size="16.8" fill="#3b4046" text-anchor="middle" font-weight="normal">4</text>
<line x1="94.7" y1="3575.4" x2="519.0" y2="3575.4" stroke="#84949b" stroke-width="1.9" stroke-dasharray="0.01 4" stroke-linecap="round"/>
<text x="73.6" y="3559.3" font-size="16.8" fill="#3b4046" text-anchor="middle" font-weight="normal">6</text>
<line x1="94.7" y1="3549.5" x2="519.0" y2="3549.5" stroke="#84949b" stroke-width="1.9" stroke-dasharray="0.01 4" stroke-linecap="round"/>
<text x="73.6" y="3533.4" font-size="16.8" fill="#3b4046" text-anchor="middle" font-weight="normal">8</text>
<line x1="94.7" y1="3523.6" x2="519.0" y2="3523.6" stroke="#84949b" stroke-width="1.9" stroke-dasharray="0.01 4" stroke-linecap="round"/>
<text x="73.6" y="3507.6" font-size="16.8" fill="#3b4046" text-anchor="middle" font-weight="normal">10</text>
<line x1="94.7" y1="3497.8" x2="519.0" y2="3497.8" stroke="#84949b" stroke-width="1.9" stroke-dasharray="0.01 4" stroke-linecap="round"/>
<text x="73.6" y="3481.7" font-size="16.8" fill="#3b4046" text-anchor="middle" font-weight="normal">12</text>
<line x1="94.7" y1="3471.9" x2="519.0" y2="3471.9" stroke="#84949b" stroke-width="1.9" stroke-dasharray="0.01 4" stroke-linecap="round"/>
<text x="73.6" y="3455.8" font-size="16.8" fill="#3b4046" text-anchor="middle" font-weight="normal">14</text>
<line x1="94.7" y1="3446.0" x2="519.0" y2="3446.0" stroke="#84949b" stroke-width="1.9" stroke-dasharray="0.01 4" stroke-linecap="round"/>
<text x="73.6" y="3429.9" font-size="16.8" fill="#3b4046" text-anchor="middle" font-weight="normal">16</text>
<line x1="94.7" y1="3420.1" x2="519.0" y2="3420.1" stroke="#84949b" stroke-width="1.9" stroke-dasharray="0.01 4" stroke-linecap="round"/>
<text x="73.6" y="3404.1" font-size="16.8" fill="#3b4046" text-anchor="middle" font-weight="normal">18</text>
<line x1="94.7" y1="3394.3" x2="519.0" y2="3394.3" stroke="#84949b" stroke-width="1.9" stroke-dasharray="0.01 4" stroke-linecap="round"/>
<text x="73.6" y="3378.2" font-size="16.8" fill="#3b4046" text-anchor="middle" font-weight="normal">20</text>
<line x1="94.7" y1="3368.4" x2="519.0" y2="3368.4" stroke="#84949b" stroke-width="1.9" stroke-dasharray="0.01 4" stroke-linecap="round"/>
<rect x="130.10" y="3386.80" width="11.40" height="240.30" fill="#c7737d" />
<rect x="210.30" y="3448.50" width="11.40" height="178.60" fill="#c7737d" />
<rect x="287.80" y="3516.00" width="11.40" height="111.10" fill="#c7737d" />
<rect x="366.30" y="3535.60" width="11.40" height="91.50" fill="#c7737d" />
<rect x="444.80" y="3548.70" width="11.40" height="78.40" fill="#c7737d" />
<rect x="92.80" y="3626.30" width="424.30" height="1.60" fill="#6d767c" />
<circle cx="136.4" cy="3656.7" r="19.3" fill="#c9707b"/>
<text x="97.9" y="3711.44" font-size="20.1" fill="#3b4046">全职妈妈</text>
<circle cx="216.6" cy="3656.7" r="19.3" fill="#c9707b"/>
<text x="194.6" y="3711.44" font-size="20.1" fill="#3b4046">教师</text>
<circle cx="294.1" cy="3656.7" r="19.3" fill="#c9707b"/>
<text x="274.9" y="3711.44" font-size="20.1" fill="#3b4046">医生</text>
<circle cx="372.6" cy="3656.7" r="19.3" fill="#c9707b"/>
<text x="353.3" y="3711.44" font-size="20.1" fill="#3b4046">文秘</text>
<circle cx="451.1" cy="3656.7" r="19.3" fill="#c9707b"/>
<text x="421.45" y="3711.44" font-size="20.1" fill="#3b4046">设计师</text>
<g transform="translate(141.6 3200.8)" fill="none" stroke="#fff" stroke-width="1.4" stroke-linecap="round" stroke-linejoin="round"><rect x="-12.6" y="-7" width="16" height="12.6" rx="1.5"/><path d="M-4.6 5.6 V9 M-8.4 9.6 H-0.8"/><rect x="3.6" y="-9.2" width="7.6" height="18.4" rx="1"/><path d="M5.6 -6.4 H9.2 M5.6 -3.8 H9.2"/></g>
<g transform="translate(219.9 3200.8)" fill="none" stroke="#fff" stroke-width="1.4" stroke-linecap="round" stroke-linejoin="round"><circle cx="-4.6" cy="-4.8" r="7.2"/><circle cx="4.8" cy="4.8" r="7.2" fill="#4e8a9e"/><path d="M-2.2 -7.4 C-3.2 -8.8 -7 -8.8 -7 -6.4 C-7 -3.8 -2.2 -5.6 -2.2 -3 C-2.2 -0.8 -6 -0.8 -7 -2.4 M-4.6 -9.6 V-0.2"/><path d="M7.2 2.2 C6.2 0.8 2.4 0.8 2.4 3.2 C2.4 5.8 7.2 4 7.2 6.6 C7.2 8.8 3.4 8.8 2.4 7.2 M4.8 0 V9.4"/></g>
<g transform="translate(295.9 3200.8)" fill="none" stroke="#fff" stroke-width="1.5" stroke-linecap="round" stroke-linejoin="round"><path d="M-11.4 -3.2 L0 -8.6 L11.4 -3.2 L0 2.2 Z"/><path d="M-6.8 -0.6 V6.6 C-3 9.4 3 9.4 6.8 6.6 V-0.6"/><path d="M11.4 -3.2 V5.2"/></g>
<g transform="translate(371.8 3201.4)" fill="none" stroke="#fff" stroke-width="1.4" stroke-linecap="round" stroke-linejoin="round"><path d="M-6 -6.5 C-6 -13.5 4 -13.5 4 -6.5 V-3.5 C4 1.8 -6 1.8 -6 -3.5 Z"/><path d="M-6 -7.2 H4"/><circle cx="5.6" cy="-9.4" r="1.7"/><path d="M-4.2 0.6 C-4.4 3.4 -11 3.4 -11 9.6 H9 C9 3.4 2.4 3.4 2.2 0.6"/><path d="M7.2 -8 C10.6 -4 8.2 0 11 3 C12.6 5 12 8 11.2 9.6"/></g>
<g transform="translate(448.0 3200.6)" fill="none" stroke="#fff" stroke-width="1.5" stroke-linecap="round" stroke-linejoin="round"><circle cx="0" cy="-6.2" r="5.4"/><path d="M-10.6 10.2 C-10.4 4.6 -7.8 2 -4.6 0.6 M10.6 10.2 C10.4 4.6 7.8 2 4.6 0.6"/><path d="M-3.4 0.6 L0 2.4 L3.4 0.6 V4.6 L0 2.8 L-3.4 4.6 Z" fill="#fff"/></g>
<g transform="translate(136.6 3656.7)" fill="none" stroke="#fff" stroke-width="1.2" stroke-linecap="round" stroke-linejoin="round"><path d="M2.6 -11.4 C7.8 -12.6 10.4 -7.6 9.4 -2.6 C8.6 2 11.6 5.8 10.2 10.4 L4.6 10.4 C6.4 6.6 4.2 4.4 4.4 0.6 C0.8 1.6 -2.2 -2 -1.4 -6 C-0.9 -8.9 0.6 -10.8 2.6 -11.4 Z" fill="#fff" stroke="none"/><circle cx="-6.6" cy="0.4" r="3.2"/><path d="M-10.6 3.6 C-12 7.4 -8.6 10.6 -4 9.6 C0 8.8 3 6.6 3.8 3.4 M-3.6 2.4 C-1.6 4.6 1.4 4.6 3.6 2.2 M-2.2 -4.6 C-4 -3 -4.6 -1 -4 0.6"/></g>
<g transform="translate(216.7 3657.2)" fill="none" stroke="#fff" stroke-width="1.5" stroke-linecap="round" stroke-linejoin="round"><g transform="scale(1.08)"><path d="M-11.4 -3.2 L0 -8.6 L11.4 -3.2 L0 2.2 Z"/><path d="M-6.8 -0.6 V6.6 C-3 9.4 3 9.4 6.8 6.6 V-0.6"/><path d="M11.4 -3.2 V5.2"/></g></g>
<g transform="translate(293.9 3657.3)" fill="none" stroke="#fff" stroke-width="1.4" stroke-linecap="round" stroke-linejoin="round"><path d="M-6 -6.5 C-6 -13.5 4 -13.5 4 -6.5 V-3.5 C4 1.8 -6 1.8 -6 -3.5 Z"/><path d="M-6 -7.2 H4"/><circle cx="5.6" cy="-9.4" r="1.7"/><path d="M-4.2 0.6 C-4.4 3.4 -11 3.4 -11 9.6 H9 C9 3.4 2.4 3.4 2.2 0.6"/><path d="M7.2 -8 C10.6 -4 8.2 0 11 3 C12.6 5 12 8 11.2 9.6"/></g>
<g transform="translate(371.4 3656.7)" fill="none" stroke="#fff" stroke-width="1.4" stroke-linecap="round" stroke-linejoin="round"><path d="M-3.6 -11.6 V-6.6 L-4.4 -4.6 L-3.2 -1.6 C-5.6 2.4 -9 6.4 -10 11 H10 C9 6.4 5.6 2.4 3.2 -1.6 L4.4 -4.6 L3.6 -6.6 V-11.6 L2 -11.6 V-7.2 C1 -6 -1 -6 -2 -7.2 V-11.6 Z" fill="#fff" stroke-width="0.8"/></g>
<g transform="translate(450.2 3657.2)" fill="none" stroke="#fff" stroke-width="1.3" stroke-linecap="round" stroke-linejoin="round"><path d="M-5.4 -5.6 C-5.6 1.6 -2.6 3.6 0 3.6 C2.6 3.6 5.6 1.6 5.4 -5.6"/><path d="M-7.4 -5.4 C-7.6 -11.6 -1 -13 3.6 -10.6 C7 -10.4 7.6 -7.4 6.4 -5 C3 -5 -1.6 -6 -3.8 -8.2 C-4.6 -6.6 -5.8 -5.6 -7.4 -5.4 Z"/><path d="M-3 3.4 V5.6 L0 8.8 L3 5.6 V3.4 M-3 5.6 C-8 6.4 -10.4 8 -10.6 11.4 M3 5.6 C8 6.4 10.4 8 10.6 11.4 M3.6 8.6 L6.4 8 L6.6 10.6"/></g>
</svg>
</body></html>
